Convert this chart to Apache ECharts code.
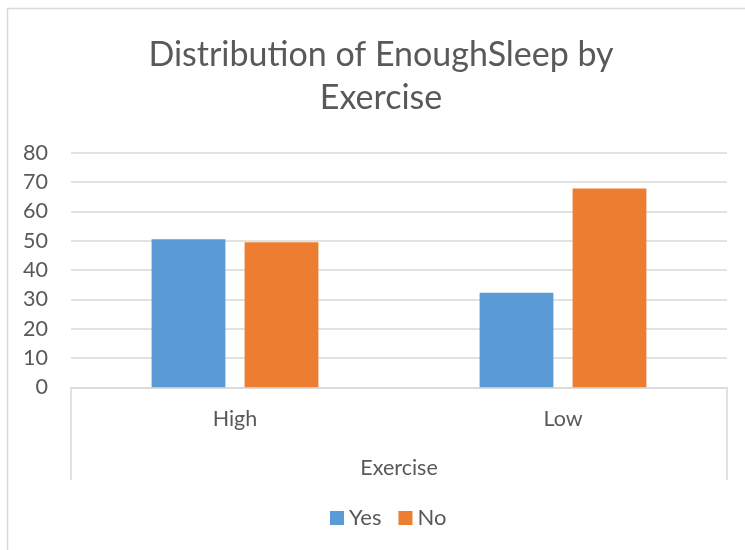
<!DOCTYPE html>
<html>
<head>
<meta charset="utf-8">
<script src="https://cdn.jsdelivr.net/npm/echarts@6/dist/echarts.min.js"></script>
<style>html,body{margin:0;padding:0;background:#fff}#c{width:745px;height:550px}</style>
</head>
<body>
<div id="c"></div>
<script>
var categories = ['High', 'Low'];
var yesValues = [50.5, 32.2];
var noValues = [49.5, 67.8];
var yTicks = { min: 0, max: 80, interval: 10 };
var titleText = 'Distribution of EnoughSleep by\nExercise';
var axisName = 'Exercise';

var font = 'Lato, "Noto Sans", sans-serif';
var chart = echarts.init(document.getElementById('c'), null, { renderer: 'canvas' });
chart.setOption({
  animation: false,
  backgroundColor: '#fff',
  title: {
    text: titleText,
    left: 376,
    top: 29,
    textAlign: 'center',
    textStyle: { fontFamily: font, fontSize: 34, fontWeight: 'normal', color: '#595959', lineHeight: 43 }
  },
  graphic: [{
    type: 'polyline',
    shape: { points: [[7.5, 560], [7.5, 8.5], [760, 8.5]] },
    style: { stroke: '#d9d9d9', lineWidth: 1.5, fill: null },
    silent: true
  }],
  legend: {
    data: ['Yes', 'No'],
    left: 330,
    top: 507,
    padding: 0,
    itemWidth: 14,
    itemHeight: 14,
    itemGap: 17,
    icon: 'rect',
    textStyle: { fontFamily: font, fontSize: 22, color: '#595959' }
  },
  grid: { left: 71, right: 18, top: 152.7, bottom: 162.7, containLabel: false },
  xAxis: [{
    type: 'category',
    data: categories,
    axisLine: { show: true, lineStyle: { color: '#d9d9d9', width: 1.5 } },
    axisTick: { show: false },
    axisLabel: { fontFamily: font, fontSize: 21.5, color: '#595959', margin: 21 },
    name: axisName,
    nameLocation: 'middle',
    nameGap: 70,
    nameTextStyle: { fontFamily: font, fontSize: 21.5, color: '#595959' }
  }, {
    type: 'category',
    data: [''],
    position: 'bottom',
    axisLine: { show: false },
    axisTick: { show: true, length: 93, lineStyle: { color: '#d9d9d9', width: 1.5 } },
    axisLabel: { show: false }
  }],
  yAxis: {
    type: 'value',
    min: yTicks.min,
    max: yTicks.max,
    interval: yTicks.interval,
    axisLine: { show: false },
    axisTick: { show: false },
    axisLabel: { fontFamily: font, fontSize: 21.5, color: '#595959', margin: 23 },
    splitLine: { lineStyle: { color: '#d9d9d9', width: 1.5 } }
  },
  series: [{
    name: 'Yes',
    type: 'bar',
    data: yesValues,
    barWidth: '22.5%',
    barGap: '26%',
    itemStyle: { color: '#5B9BD5' }
  }, {
    name: 'No',
    type: 'bar',
    data: noValues,
    barWidth: '22.5%',
    barGap: '26%',
    itemStyle: { color: '#ED7D31' }
  }]
});
</script>
</body>
</html>
